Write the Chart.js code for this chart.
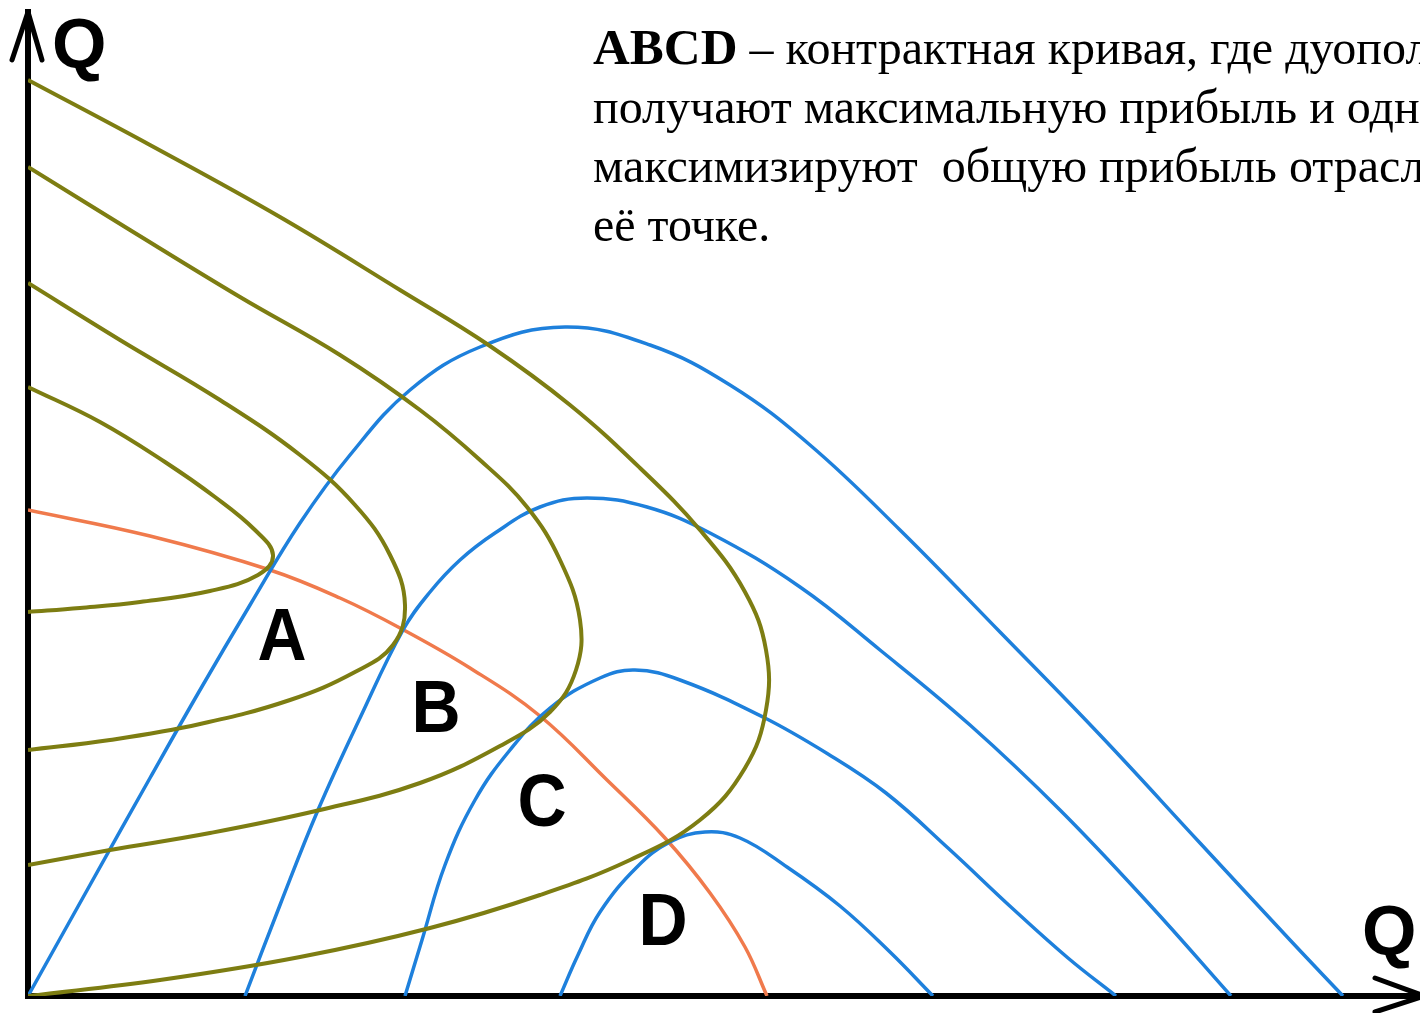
<!DOCTYPE html>
<html lang="ru">
<head>
<meta charset="utf-8">
<script src="https://cdn.jsdelivr.net/npm/chart.js@4.4.0/dist/chart.umd.min.js"></script>
<style>
  html, body { margin: 0; background: #fff; }
  canvas { display: block; }
</style>
</head>
<body>
<canvas id="chart" width="1420" height="1013"></canvas>
<script>
// Изопрофиты первой фирмы (оливковые), от внешней к внутренней
const iso1 = [[0,916],[122,851],[252,779],[372,706],[462,650],[542,591],[612,528],[672,466],[717,404],[738,346],[738,286],[717,228],[672,176],[602,136],[512,101],[402,68],[272,39],[132,16],[0,0]];
const iso2 = [[0,829],[102,766],[212,699],[312,641],[392,586],[452,536],[499,489],[532,436],[552,376],[548,326],[522,284],[472,250],[392,213],[292,186],[182,163],[82,146],[0,131]];
const iso3 = [[0,713],[92,656],[192,596],[272,541],[327,491],[362,441],[377,391],[365,351],[327,324],[262,296],[172,272],[82,256],[0,246]];
const iso4 = [[0,609],[72,574],[137,534],[187,499],[227,466],[245,441],[230,421],[182,405],[112,394],[52,388],[0,384]];

// Изопрофиты второй фирмы (синие)
const isoB1 = [[0,0],[62,111],[122,218],[172,306],[222,391],[272,473],[322,541],[382,606],[452,649],[537,669],[622,651],[702,611],[782,551],[872,466],[972,364],[1072,261],[1172,153],[1262,56],[1315,0]];
const isoB2 = [[217,0],[252,91],[290,186],[332,278],[375,366],[402,404],[432,436],[467,463],[512,489],[559,498],[619,489],[682,463],[772,409],[852,346],[942,271],[1032,186],[1122,91],[1203,0]];
const isoB3 = [[377,0],[394,56],[417,131],[447,196],[482,246],[522,288],[572,318],[607,326],[652,316],[735,279],[800,242],[858,203],[920,148],[984,88],[1040,38],[1088,0]];
const isoB4 = [[532,0],[550,41],[572,84],[609,129],[642,154],[677,164],[712,158],[759,129],[812,90],[862,44],[905,0]];

// Контрактная кривая ABCD
const contract = [[0,486],[122,460],[242,426],[312,398],[372,368],[442,328],[512,280],[579,216],[637,158],[682,103],[717,49],[739,0]];

// Подписи точек
const pointNames = ['A', 'B', 'C', 'D'];
const pointSpots = [[254,336],[408,264],[514,170],[635,51]];

const noteLines = [
  ['ABCD', ' – контрактная кривая, где дуополисты'],
  ['', 'получают максимальную прибыль и одновременно'],
  ['', 'максимизируют  общую прибыль отрасли в любой'],
  ['', 'её точке.']
];

const OLIVE = '#7d7d12';
const BLUE = '#1e80dc';
const ORANGE = '#f07a4c';

const toXY = arr => arr.map(([x, y]) => ({ x, y }));

const curve = (data, color, width) => ({
  data: toXY(data),
  showLine: true,
  borderColor: color,
  borderWidth: width,
  pointRadius: 0,
  tension: 0.4,
  fill: false
});

// стрелки, буквы и текст поверх графика
const overlay = {
  id: 'overlay',
  afterDraw(chart) {
    const { ctx, chartArea: a, scales: { x, y } } = chart;
    ctx.save();

    ctx.strokeStyle = '#000';
    ctx.lineWidth = 5;
    ctx.lineCap = 'round';
    ctx.lineJoin = 'round';
    ctx.beginPath();
    ctx.moveTo(a.left - 16, a.top + 48);
    ctx.lineTo(a.left, a.top);
    ctx.lineTo(a.left + 14, a.top + 48);
    ctx.moveTo(a.right - 45, a.bottom - 18);
    ctx.lineTo(a.right + 4, a.bottom);
    ctx.lineTo(a.right - 45, a.bottom + 16);
    ctx.stroke();

    ctx.fillStyle = '#000';
    ctx.font = 'bold 70px "Liberation Sans", Arial, sans-serif';
    ctx.textAlign = 'left';
    ctx.textBaseline = 'alphabetic';
    ctx.fillText('Q', a.left + 24, a.top + 56);
    ctx.fillText('Q', a.right - 58, a.bottom - 41);

    ctx.font = 'bold 68px "Liberation Sans", Arial, sans-serif';
    ctx.textAlign = 'center';
    pointNames.forEach((name, i) => {
      const [px, py] = pointSpots[i];
      ctx.save();
      ctx.translate(x.getPixelForValue(px), y.getPixelForValue(py));
      ctx.scale(1, 1.1);
      ctx.fillText(name, 0, 0);
      ctx.restore();
    });

    ctx.textAlign = 'left';
    noteLines.forEach(([bold, rest], i) => {
      let tx = 593;
      const ty = 64 + i * 59;
      if (bold) {
        ctx.font = 'bold 51px "Liberation Serif", "Times New Roman", serif';
        ctx.fillText(bold, tx, ty);
        tx += ctx.measureText(bold).width;
      }
      ctx.font = '48px "Liberation Serif", "Times New Roman", serif';
      ctx.fillText(rest, tx, ty);
    });

    ctx.restore();
  }
};

const ctx = document.getElementById('chart').getContext('2d');

new Chart(ctx, {
  type: 'scatter',
  data: {
    datasets: [
      curve(iso1, OLIVE, 4),
      curve(iso2, OLIVE, 4),
      curve(iso3, OLIVE, 4),
      curve(iso4, OLIVE, 4),
      curve(isoB1, BLUE, 3.5),
      curve(isoB2, BLUE, 3.5),
      curve(isoB3, BLUE, 3.5),
      curve(isoB4, BLUE, 3.5),
      curve(contract, ORANGE, 3.5)
    ]
  },
  options: {
    responsive: false,
    animation: false,
    layout: { padding: { left: 28, top: 12, right: 0, bottom: 17 } },
    plugins: { legend: { display: false }, tooltip: { enabled: false } },
    scales: {
      x: {
        type: 'linear', min: 0, max: 1392,
        ticks: { display: false },
        grid: { display: false, drawTicks: false },
        border: { display: true, color: '#000', width: 6 }
      },
      y: {
        type: 'linear', min: 0, max: 984,
        ticks: { display: false },
        grid: { display: false, drawTicks: false },
        border: { display: true, color: '#000', width: 6 }
      }
    }
  },
  plugins: [overlay]
});
</script>
</body>
</html>
